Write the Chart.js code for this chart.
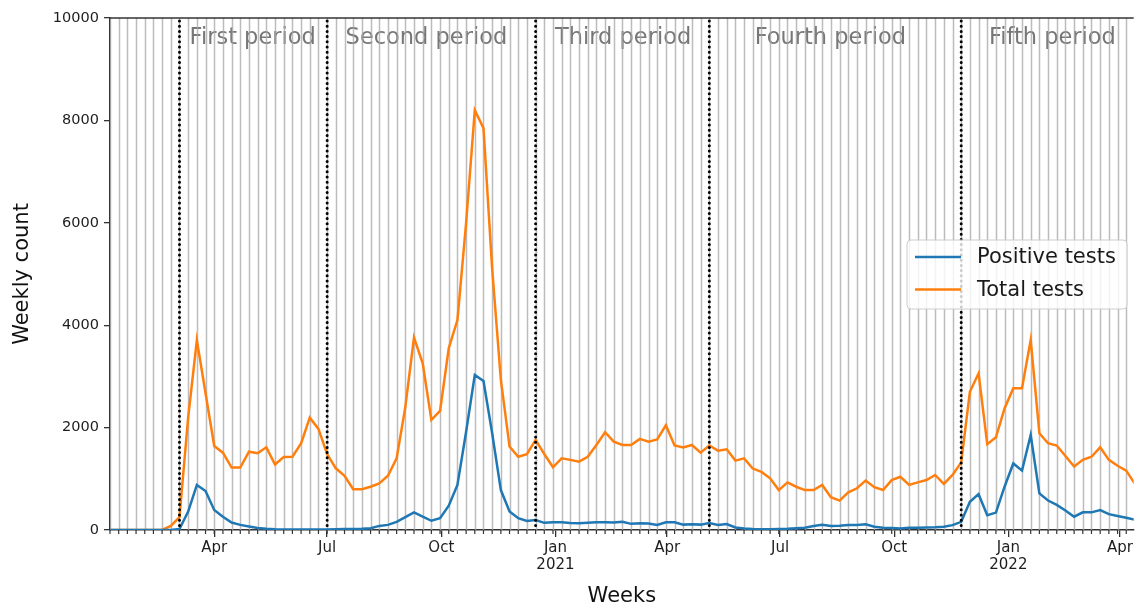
<!DOCTYPE html>
<html>
<head>
<meta charset="utf-8">
<script src="https://cdn.jsdelivr.net/npm/chart.js@4.4.1/dist/chart.umd.min.js"></script>
<style>
  html, body { margin: 0; padding: 0; background: #ffffff; overflow: hidden; }
  #wrap { width: 1135px; height: 608px; position: relative; }
</style>
</head>
<body>
<div id="wrap"><canvas id="chart" width="1135" height="608"></canvas></div>
<script>
// Weekly series, one value per week starting Wednesday 2020-01-08
const DAYS_PER_WEEK = 7;

const positiveTests = [
  0, 0, 0, 0, 0, 0, 0, 0, 20, 360,
  880, 760, 390, 260, 145, 100, 70, 40, 25, 15,
  10, 10, 10, 10, 10, 10, 15, 20, 20, 25,
  35, 80, 100, 160, 250, 345, 260, 180, 230, 475,
  880, 1920, 3030, 2910, 1890, 780, 360, 230, 175, 195,
  140, 150, 150, 135, 130, 140, 150, 150, 145, 160,
  120, 130, 125, 100, 150, 150, 105, 110, 105, 135,
  100, 117, 50, 30, 20, 15, 15, 20, 25, 35,
  45, 78, 100, 80, 85, 98, 98, 110, 65, 45,
  40, 30, 45, 45, 50, 55, 65, 95, 160, 550,
  700, 290, 340, 850, 1300, 1160, 1855, 715, 575, 490,
  380, 260, 345, 345, 390, 310, 275, 240, 200
];

const totalTests = [
  0, 0, 0, 0, 0, 0, 0, 80, 250, 2200,
  3710, 2670, 1640, 1510, 1220, 1220, 1530, 1500, 1615, 1280,
  1425, 1430, 1690, 2195, 1975, 1480, 1205, 1060, 795, 795,
  845, 910, 1060, 1400, 2400, 3760, 3255, 2150, 2325, 3550,
  4100, 6000, 8200, 7850, 5100, 2930, 1630, 1430, 1480, 1760,
  1485, 1225, 1400, 1370, 1335, 1430, 1660, 1910, 1725, 1660,
  1660, 1780, 1725, 1770, 2045, 1650, 1610, 1660, 1510, 1650,
  1550, 1575, 1355, 1400, 1200, 1135, 1010, 780, 930, 845,
  780, 780, 880, 640, 575, 735, 815, 965, 835, 780,
  975, 1040, 880, 930, 975, 1075, 900, 1075, 1320, 2700,
  3060, 1675, 1810, 2380, 2770, 2770, 3710, 1890, 1695, 1650,
  1445, 1240, 1370, 1430, 1615, 1370, 1255, 1160, 900
];

// Month ticks, in days since 2020-01-08
const monthTickDays = [84, 175, 267, 359, 449, 540, 632, 724, 814];
const monthTickLabels = [['Apr'], ['Jul'], ['Oct'], ['Jan', '2021'], ['Apr'], ['Jul'], ['Oct'], ['Jan', '2022'], ['Apr']];
const yTickValues = [0, 2000, 4000, 6000, 8000, 10000];

// Period boundaries (days since 2020-01-08) and their labels
const periodStartDays = [56, 175, 343, 483, 686];
const periodNames = ['First period', 'Second period', 'Third period', 'Fourth period', 'Fifth period'];
const periodLabelDays = [115, 255, 413.5, 580.5, 759.5];

const seriesNames = ['Positive tests', 'Total tests'];
const seriesColors = ['#1f77b4', '#ff7f0e'];

const FONT = "'DejaVu Sans', sans-serif";
const AXIS_MAX_DAY = 825;

const toPoints = arr => arr.map((v, i) => ({ x: i * DAYS_PER_WEEK, y: v }));

// Weekly vertical grid, period captions and minor tick marks
const weekGrid = {
  id: 'weekGrid',
  beforeDatasetsDraw(chart) {
    const { ctx, chartArea: a, scales: { x } } = chart;
    ctx.save();
    // captions sit under the grid
    ctx.font = `22.5px ${FONT}`;
    ctx.fillStyle = '#777777';
    ctx.textAlign = 'center';
    ctx.textBaseline = 'alphabetic';
    periodNames.forEach((name, k) => {
      ctx.fillText(name, x.getPixelForValue(periodLabelDays[k]), a.top + 25.5);
    });
    ctx.beginPath();
    ctx.rect(a.left, a.top, a.right - a.left, a.bottom - a.top);
    ctx.clip();
    ctx.strokeStyle = 'rgba(165,165,165,0.75)';
    ctx.lineWidth = 1.5;
    for (let i = 0; i < totalTests.length; i++) {
      const px = Math.round(x.getPixelForValue(i * DAYS_PER_WEEK)) + 0.5;
      ctx.beginPath();
      ctx.moveTo(px, a.top);
      ctx.lineTo(px, a.bottom);
      ctx.stroke();
    }
    ctx.restore();

    // weekly minor ticks below the axis
    ctx.save();
    ctx.strokeStyle = '#333333';
    ctx.lineWidth = 1.2;
    for (let i = 0; i < totalTests.length; i++) {
      const px = x.getPixelForValue(i * DAYS_PER_WEEK);
      if (px < a.left - 0.5 || px > a.right) continue;
      ctx.beginPath();
      ctx.moveTo(px, a.bottom);
      ctx.lineTo(px, a.bottom + 4);
      ctx.stroke();
    }
    // top spine
    ctx.strokeStyle = '#333333';
    ctx.lineWidth = 1.5;
    ctx.beginPath();
    ctx.moveTo(a.left, a.top);
    ctx.lineTo(a.right, a.top);
    ctx.stroke();
    ctx.restore();
  }
};

// Dotted period boundaries and the legend box
const overlays = {
  id: 'overlays',
  afterDatasetsDraw(chart) {
    const { ctx, chartArea: a, scales: { x } } = chart;
    ctx.save();
    ctx.strokeStyle = '#000000';
    ctx.lineWidth = 3;
    ctx.lineCap = 'round';
    ctx.setLineDash([0, 5.2]);
    periodStartDays.forEach(d => {
      const px = x.getPixelForValue(d);
      ctx.beginPath();
      ctx.moveTo(px, a.top + 3);
      ctx.lineTo(px, a.bottom);
      ctx.stroke();
    });
    ctx.restore();

    // legend
    const bx = 907, by = 240, bw = 220, bh = 69, r = 4;
    ctx.save();
    ctx.beginPath();
    ctx.moveTo(bx + r, by);
    ctx.lineTo(bx + bw - r, by);
    ctx.quadraticCurveTo(bx + bw, by, bx + bw, by + r);
    ctx.lineTo(bx + bw, by + bh - r);
    ctx.quadraticCurveTo(bx + bw, by + bh, bx + bw - r, by + bh);
    ctx.lineTo(bx + r, by + bh);
    ctx.quadraticCurveTo(bx, by + bh, bx, by + bh - r);
    ctx.lineTo(bx, by + r);
    ctx.quadraticCurveTo(bx, by, bx + r, by);
    ctx.closePath();
    ctx.fillStyle = 'rgba(255,255,255,0.8)';
    ctx.fill();
    ctx.strokeStyle = '#cccccc';
    ctx.lineWidth = 1;
    ctx.stroke();
    ctx.font = `21px ${FONT}`;
    ctx.textAlign = 'left';
    ctx.textBaseline = 'middle';
    seriesNames.forEach((name, k) => {
      const ly = by + 17 + k * 32.5;
      ctx.strokeStyle = seriesColors[k];
      ctx.lineWidth = 2.5;
      ctx.beginPath();
      ctx.moveTo(bx + 8, ly);
      ctx.lineTo(bx + 54, ly);
      ctx.stroke();
      ctx.fillStyle = '#1a1a1a';
      ctx.fillText(name, bx + 70, ly + 1);
    });
    ctx.restore();
  }
};

new Chart(document.getElementById('chart'), {
  type: 'line',
  data: {
    datasets: [
      { label: seriesNames[0], data: toPoints(positiveTests), borderColor: seriesColors[0], backgroundColor: seriesColors[0], borderWidth: 2.5, pointRadius: 0, tension: 0, fill: false },
      { label: seriesNames[1], data: toPoints(totalTests), borderColor: seriesColors[1], backgroundColor: seriesColors[1], borderWidth: 2.5, pointRadius: 0, tension: 0, fill: false }
    ]
  },
  options: {
    responsive: false,
    animation: false,
    devicePixelRatio: 1,
    layout: { padding: { top: 18, right: 0, bottom: 0, left: 0 } },
    plugins: { legend: { display: false }, tooltip: { enabled: false } },
    scales: {
      x: {
        type: 'linear',
        position: 'bottom',
        min: 0,
        max: AXIS_MAX_DAY,
        afterBuildTicks: s => { s.ticks = monthTickDays.map(v => ({ value: v })); },
        afterFit: s => { s.height = 78; },
        ticks: {
          autoSkip: false,
          maxRotation: 0,
          minRotation: 0,
          padding: 2,
          color: '#1e1e1e',
          font: { family: FONT, size: 15, lineHeight: 1.15 },
          callback: v => monthTickLabels[monthTickDays.indexOf(v)]
        },
        grid: { drawOnChartArea: false, drawTicks: true, tickLength: 7, color: '#333333', lineWidth: 1.3 },
        border: { display: true, color: '#333333', width: 1.5 },
        title: { display: true, text: 'Weeks', color: '#111111', font: { family: FONT, size: 21, lineHeight: 1 }, padding: { top: 0, bottom: 0.5 } }
      },
      y: {
        min: 0,
        max: 10000,
        afterBuildTicks: s => { s.ticks = yTickValues.map(v => ({ value: v })); },
        afterFit: s => { s.width = 110; },
        ticks: {
          padding: 5,
          color: '#1e1e1e',
          font: { family: FONT, size: 14.5 },
          callback: v => String(v)
        },
        grid: { drawOnChartArea: false, drawTicks: true, tickLength: 6, color: '#333333', lineWidth: 1.3 },
        border: { display: true, color: '#333333', width: 1.5 },
        title: { display: true, text: 'Weekly count', color: '#111111', font: { family: FONT, size: 21, lineHeight: 1.2 }, padding: { top: 9.5, bottom: 0 } }
      }
    }
  },
  plugins: [weekGrid, overlays]
});
</script>
</body>
</html>
